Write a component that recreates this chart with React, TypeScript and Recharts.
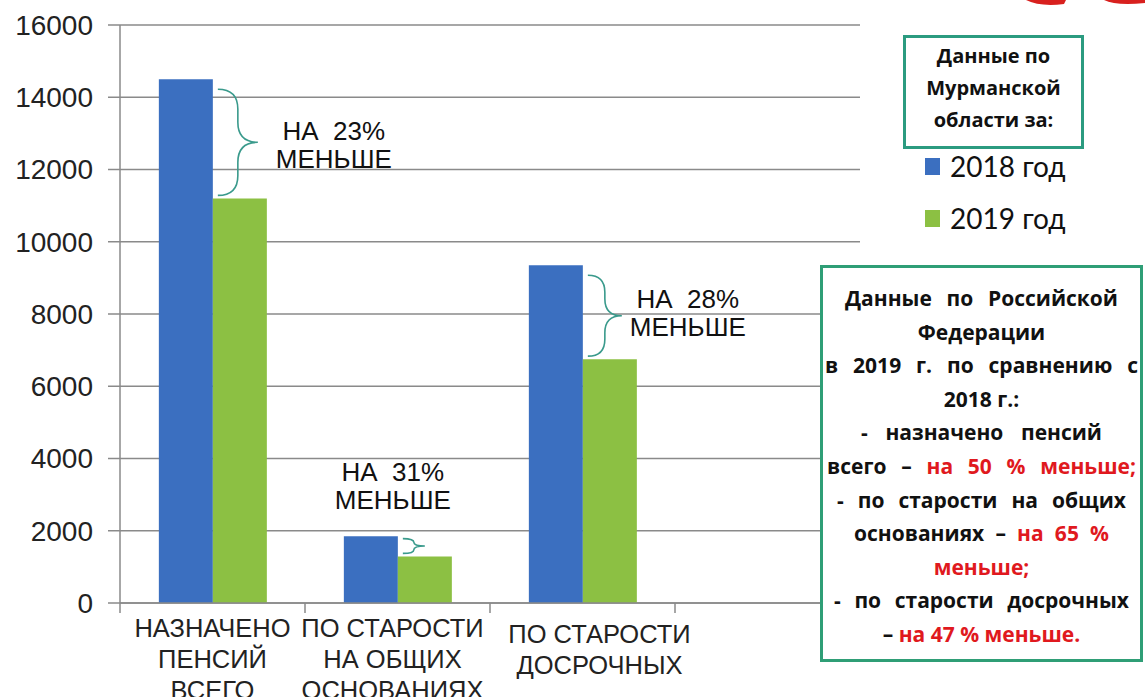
import React from 'react';
import { BarChart, Bar, XAxis, YAxis, CartesianGrid, Legend, LabelList } from 'recharts';

// categories (line breaks as in the picture); the 4th slot is empty in the original
const categories = ['НАЗНАЧЕНО\nПЕНСИЙ\nВСЕГО', 'ПО СТАРОСТИ\nНА ОБЩИХ\nОСНОВАНИЯХ', 'ПО СТАРОСТИ\nДОСРОЧНЫХ', ''];
const values2018 = [14500, 1850, 9350];
const values2019 = [11200, 1290, 6750];
const yTicks = [0, 2000, 4000, 6000, 8000, 10000, 12000, 14000, 16000];
const diffLabels = ['НА  23%', 'НА  31%', 'НА  28%'];
const seriesNames = ['2018 год', '2019 год'];

const data = categories.map((name, i) => ({
  name,
  y2018: values2018[i],
  y2019: values2019[i],
}));

const BLUE = '#3b6fc0';
const GREEN = '#8cc043';
const TEAL = '#3a9a8c';
const AXIS = '#8a8a8a';
const ARIAL = "'Liberation Sans', Arial, sans-serif";
const CAL = "'Open Sans', Lato, sans-serif";

// small per-label nudges to match the reference placement
const labelShift = [
  { dx: 0, dy: 0 },
  { dx: -5, dy: 0 },
  { dx: 17, dy: 6 },
  { dx: 0, dy: 0 },
];

const CategoryTick = (props: any) => {
  const { x, y, payload, index } = props;
  const half = payload?.offset || 92.5;
  const lines = String(payload.value).split('\n').filter(Boolean);
  const s = labelShift[index] || { dx: 0, dy: 0 };
  return (
    <g>
      <line x1={x - half} y1={y} x2={x - half} y2={y + 10} stroke={AXIS} strokeWidth={1.5} />
      {index === categories.length - 1 && (
        <line x1={x + half} y1={y} x2={x + half} y2={y + 10} stroke={AXIS} strokeWidth={1.5} />
      )}
      <text x={x + s.dx} y={y + 34 + s.dy} textAnchor="middle" fontFamily={ARIAL} fontSize={25.5} fill="#222">
        {lines.map((l, i) => (
          <tspan key={i} x={x + s.dx} dy={i === 0 ? 0 : 31}>{l}</tspan>
        ))}
      </text>
    </g>
  );
};

const bracePath = (x0: number, y1: number, y2: number, w: number) => {
  const h = y2 - y1;
  const q = Math.min(w / 2, h / 4);
  const xm = x0 + w / 2;
  const ym = (y1 + y2) / 2;
  return [
    `M ${x0} ${y1}`,
    `Q ${xm} ${y1} ${xm} ${y1 + q}`,
    `L ${xm} ${ym - q}`,
    `Q ${xm} ${ym} ${x0 + w} ${ym}`,
    `Q ${xm} ${ym} ${xm} ${ym + q}`,
    `L ${xm} ${y2 - q}`,
    `Q ${xm} ${y2} ${x0} ${y2}`,
  ].join(' ');
};

// brace + "НА xx% МЕНЬШЕ" drawn from the green bar's geometry
const DiffLabel = (props: any) => {
  const { x, y, height, index } = props;
  if (index == null || values2019[index] == null) return null;
  const base = y + height;
  const blueTop = base - (values2018[index] / values2019[index]) * height;
  const gap = y - blueTop;
  const yTop = blueTop + Math.min(10, gap * 0.12);
  const yBot = y - 3;
  const small = gap < 60;
  const w = small ? 22 : gap > 100 ? 40 : 34;
  const x0 = x + 5;
  const tipX = x0 + w;
  const tipY = (yTop + yBot) / 2;
  let tx: number, ty1: number;
  if (small) {
    tx = x - 5;
    ty1 = blueTop - 55;
  } else if (gap > 100) {
    tx = tipX + 76;
    ty1 = tipY - 2;
  } else {
    tx = tipX + 66;
    ty1 = tipY - 8;
  }
  return (
    <g>
      <path d={bracePath(x0, yTop, yBot, w)} fill="none" stroke={TEAL} strokeWidth={1.6} />
      <text x={tx} y={ty1} textAnchor="middle" fontFamily={ARIAL} fontSize={26} fill="#111" style={{ whiteSpace: 'pre' }}>
        <tspan x={tx} dy={0}>{diffLabels[index]}</tspan>
        <tspan x={tx} dy={28}>МЕНЬШЕ</tspan>
      </text>
    </g>
  );
};

const renderLegend = (props: any) => {
  const items = props.payload || [];
  return (
    <div style={{ fontFamily: CAL }}>
      <div
        style={{
          width: 175,
          height: 106,
          border: '3px solid #2b9b80',
          boxSizing: 'content-box',
          textAlign: 'center',
          fontWeight: 700,
          fontSize: 20,
          lineHeight: '32px',
          color: '#111',
          paddingTop: 2,
        }}
      >
        Данные по<br />Мурманской<br />области за:
      </div>
      {items.map((it: any, i: number) => (
        <div key={i} style={{ display: 'flex', alignItems: 'center', height: 34, marginTop: i === 0 ? 0 : 18, marginLeft: 22 }}>
          <span style={{ display: 'inline-block', width: 15, height: 17, background: it.color, marginRight: 10 }} />
          <span style={{ fontSize: 28, color: '#111', fontFamily: 'Lato, sans-serif' }}>{it.value}</span>
        </div>
      ))}
    </div>
  );
};

const red = { color: '#e0191e' };

// text lines of the right-hand box; pad = side padding for justified lines
const rfLines: { parts: [string, boolean][]; pad?: number }[] = [
  { parts: [['Данные по Российской', false]], pad: 22 },
  { parts: [['Федерации', false]] },
  { parts: [['в 2019 г. по сравнению с', false]], pad: 2 },
  { parts: [['2018 г.:', false]] },
  { parts: [['- назначено пенсий', false]], pad: 38 },
  { parts: [['всего – ', false], ['на 50 % меньше;', true]], pad: 4 },
  { parts: [['- по старости на общих', false]], pad: 14 },
  { parts: [['основаниях – ', false], ['на 65 %', true]], pad: 31 },
  { parts: [['меньше;', true]] },
  { parts: [['- по старости досрочных', false]], pad: 11 },
  { parts: [['– ', false], ['на 47 % меньше.', true]] },
];

export default function App() {
  return (
    <div style={{ position: 'absolute', left: 0, top: 0, width: 1145, height: 697, background: '#fff', overflow: 'hidden' }}>
      <BarChart
        width={1145}
        height={697}
        data={data}
        margin={{ top: 25, right: 285, left: 10, bottom: 0 }}
        barCategoryGap="21%"
        barGap={0}
      >
        <CartesianGrid vertical={false} stroke={AXIS} strokeWidth={1.5} />
        <XAxis
          dataKey="name"
          height={94}
          interval={0}
          tickLine={false}
          tickSize={0}
          tickMargin={0}
          axisLine={{ stroke: AXIS, strokeWidth: 1.5 }}
          tick={<CategoryTick />}
        />
        <YAxis
          width={110}
          domain={[0, 16000]}
          ticks={yTicks}
          interval={0}
          tickSize={12}
          tickMargin={15}
          tickLine={{ stroke: AXIS, strokeWidth: 1.5 }}
          axisLine={{ stroke: AXIS, strokeWidth: 1.5 }}
          tick={{ fontFamily: ARIAL, fontSize: 28, fill: '#222' }}
        />
        <Legend
          layout="horizontal"
          verticalAlign="middle"
          align="center"
          wrapperStyle={{ position: 'absolute', left: 903, top: 35, width: 200 }}
          content={renderLegend}
        />
        <Bar dataKey="y2018" name={seriesNames[0]} fill={BLUE} isAnimationActive={false} />
        <Bar dataKey="y2019" name={seriesNames[1]} fill={GREEN} isAnimationActive={false}>
          <LabelList dataKey="y2019" content={<DiffLabel />} />
        </Bar>
      </BarChart>

      <div
        style={{
          position: 'absolute',
          left: 820,
          top: 265,
          width: 323,
          height: 397,
          border: '3px solid #2f9e76',
          background: '#fff',
          fontFamily: CAL,
          fontWeight: 700,
          fontSize: 21,
          lineHeight: '33.6px',
          color: '#111',
          paddingTop: 14,
          boxSizing: 'border-box',
        }}
      >
        {rfLines.map((ln, i) => (
          <div
            key={i}
            style={{
              textAlign: ln.pad != null ? 'justify' : 'center',
              textAlignLast: ln.pad != null ? 'justify' : 'center',
              padding: `0 ${ln.pad ?? 0}px`,
              whiteSpace: 'nowrap',
            }}
          >
            {ln.parts.map(([t, isRed], j) => (
              <span key={j} style={isRed ? red : undefined}>{t}</span>
            ))}
          </div>
        ))}
      </div>

      <svg style={{ position: 'absolute', left: 1020, top: 0 }} width={125} height={8}>
        <path d="M 6 0 Q 20 7 44 4 L 46 0 Z" fill="#d8201e" />
        <path d="M 84 0 Q 96 6 125 3 L 125 0 Z" fill="#d8201e" />
      </svg>
    </div>
  );
}
